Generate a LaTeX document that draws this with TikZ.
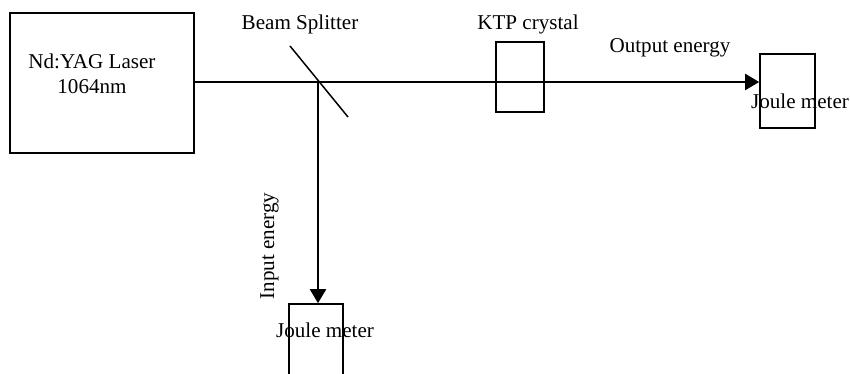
\documentclass[tikz,border=0pt]{standalone}
\usepackage{fontspec}
\setmainfont{Liberation Serif}
\usetikzlibrary{arrows.meta}
\tikzset{
 box/.style={draw,line width=0.85pt,inner sep=0pt},
 lbl/.style={inner sep=0pt,font=\fontsize{12pt}{14pt}\selectfont,align=center},
 beam/.style={line width=1.5pt},
 ray/.style={beam,-{Triangle[length=8pt,width=9pt]}}
}
\begin{document}
\begin{tikzpicture}[x=0.02cm,y=-0.02cm]
 \useasboundingbox (0,0) rectangle (850,374);
 \clip (0,0) rectangle (850,374);
 \node[box,minimum width=3.68cm,minimum height=2.8cm] (laser) at (102,83) {};
 \node[box,minimum width=0.96cm,minimum height=1.4cm] (ktp) at (520,77) {};
 \node[box,minimum width=1.1cm,minimum height=1.48cm] (outmeter) at (787.5,91) {};
 \node[box,minimum width=1.08cm,minimum height=1.48cm] (inmeter) at (316,341) {};
 \coordinate (split) at (318,82);
 \coordinate (bstop) at (290,46);
 \coordinate (bsbot) at (348,117);
 \coordinate (outend) at (outmeter.west |- split);
 \draw[line width=0.85pt] (bstop)--(bsbot);
 \draw[line width=1pt] (laser.east |- split)--(split);
 \draw[ray] (split)--(outend);
 \draw[ray] (split)--(inmeter.north -| split);
 \node[lbl] (laserlabel) at (92,73.5) {Nd:YAG Laser\\1064nm};
 \node[lbl] (bslabel) at (300,24) {Beam Splitter};
 \node[lbl] (ktplabel) at (528,24) {KTP crystal};
 \node[lbl] (outlabel) at (670,48) {Output energy};
 \node[lbl] (outmeterlabel) at (800,101) {Joule meter};
 \node[lbl] (inmeterlabel) at (325,330) {Joule meter};
 \node[lbl,rotate=90] (inlabel) at (269.5,246) {Input energy};
\end{tikzpicture}
\end{document}
